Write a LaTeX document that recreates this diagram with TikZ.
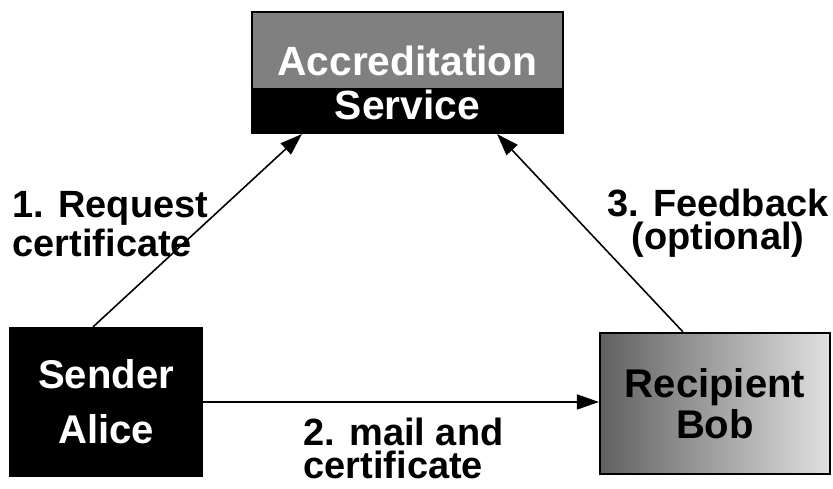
\documentclass[tikz,border=0pt]{standalone}
\usepackage{fontspec}
\setmainfont{Liberation Sans}
\usetikzlibrary{arrows.meta}

\begin{document}
\begin{tikzpicture}[
  font=\bfseries,
  party/.style={
    draw=black,
    line width=0.6pt,
    align=center,
    inner sep=0pt
  },
  flow/.style={
    line width=0.45pt,
    -{Triangle[length=0.22cm,width=0.15cm]}
  },
  steplabel/.style={
    inner sep=0pt,
    font=\bfseries\fontsize{10.8}{9.4}\selectfont
  }
]
  \useasboundingbox (0,0) rectangle (8.33,4.89);

  % The three parties.
  \node[party, fill=black!50,
        minimum width=3.11cm, minimum height=1.21cm,
        path picture={\fill[black] (path picture bounding box.south west)
          rectangle ([yshift=0.45cm]path picture bounding box.south east);},
        label={[yshift=-0.10cm, align=center, text=white,
                font=\bfseries\fontsize{11.6}{12.5}\selectfont]center:Accreditation\\Service}]
    (acc) at (4.075,4.165) {};
  \node[party, fill=black, text=white,
        minimum width=1.92cm, minimum height=1.48cm,
        font=\bfseries\fontsize{11.4}{15.6}\selectfont]
    (alice) at (1.06,0.87) {Sender\\Alice};
  \node[party, left color=black!62, right color=black!12, text=black,
        minimum width=2.30cm, minimum height=1.41cm,
        font=\bfseries\fontsize{11.4}{10.5}\selectfont]
    (bob) at (7.15,0.855) {Recipient\\Bob};

  % Message flow.
  \draw[flow] ([xshift=-0.13cm]alice.north) -- ([xshift=0.51cm]acc.south west);
  \draw[flow] (alice.east) -- (alice.east -| bob.west);
  \draw[flow] ([xshift=-0.32cm]bob.north) -- ([xshift=-0.67cm]acc.south east);

  % Step labels.
  \node[steplabel, anchor=west, align=left] (req) at (0.12,2.645) {1. Request\\certificate};
  \node[steplabel, anchor=west, align=left] (mail) at (3.03,0.405) {2. mail and\\certificate};
  \node[steplabel, align=center] (fb) at (7.18,2.655) {3. Feedback\\(optional)};

\end{tikzpicture}
\end{document}
